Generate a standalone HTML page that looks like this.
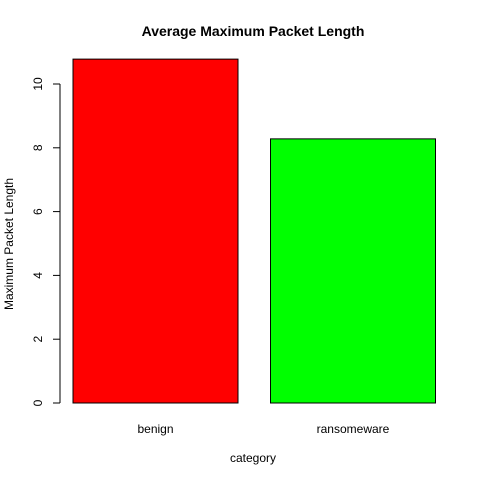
<!DOCTYPE html>
<html><head><meta charset="utf-8"><style>
body{margin:0;background:#fff}
text{font-family:"Liberation Sans",Arial,sans-serif}
</style></head><body>
<svg width="480" height="480" viewBox="0 0 480 480">
<rect width="480" height="480" fill="#fff"/>
<text x="253" y="36" text-anchor="middle" font-size="14" font-weight="bold">Average Maximum Packet Length</text>
<text x="253" y="462" text-anchor="middle" font-size="12">category</text>
<text transform="translate(13,244) rotate(-90)" text-anchor="middle" font-size="12">Maximum Packet Length</text>
<g id="bars"></g>
<g id="yaxis"></g>
</svg>
<script>
const categories=["benign","ransomeware"];
const values=[10.78,8.28];
const colors=["#ff0000","#00ff00"];
const yTicks=[0,2,4,6,8,10];
const y0=403,pxPerUnit=31.9;
function y(v){return y0-v*pxPerUnit;}
function x(i){return 73+i*197.5;}
const bw=165;
const ns="http://www.w3.org/2000/svg";
const bars=document.getElementById('bars');
categories.forEach((c,i)=>{
 const r=document.createElementNS(ns,'rect');
 r.setAttribute('x',x(i));r.setAttribute('y',y(values[i]));
 r.setAttribute('width',bw);r.setAttribute('height',y(0)-y(values[i]));
 r.setAttribute('fill',colors[i]);r.setAttribute('stroke','#000');r.setAttribute('stroke-width','1');
 
 
 bars.appendChild(r);
 const t=document.createElementNS(ns,'text');
 t.setAttribute('x',x(i)+bw/2);t.setAttribute('y',433);t.setAttribute('text-anchor','middle');t.setAttribute('font-size','12');
 t.textContent=c;
 
 
 bars.appendChild(t);
});
const ya=document.getElementById('yaxis');
const ln=document.createElementNS(ns,'line');
ln.setAttribute('x1',60);ln.setAttribute('x2',60);ln.setAttribute('y1',y(yTicks[0]));ln.setAttribute('y2',y(yTicks[yTicks.length-1]));ln.setAttribute('stroke','#000');


ya.appendChild(ln);
yTicks.forEach(v=>{
 const tk=document.createElementNS(ns,'line');
 tk.setAttribute('x1',53);tk.setAttribute('x2',60);tk.setAttribute('y1',y(v));tk.setAttribute('y2',y(v));tk.setAttribute('stroke','#000');
 
 
 ya.appendChild(tk);
 const t=document.createElementNS(ns,'text');
 t.setAttribute('transform','translate(42,'+y(v)+') rotate(-90)');t.setAttribute('text-anchor','middle');t.setAttribute('font-size','12');
 t.textContent=v;
 
 
 ya.appendChild(t);
});
</script>
</body></html>
